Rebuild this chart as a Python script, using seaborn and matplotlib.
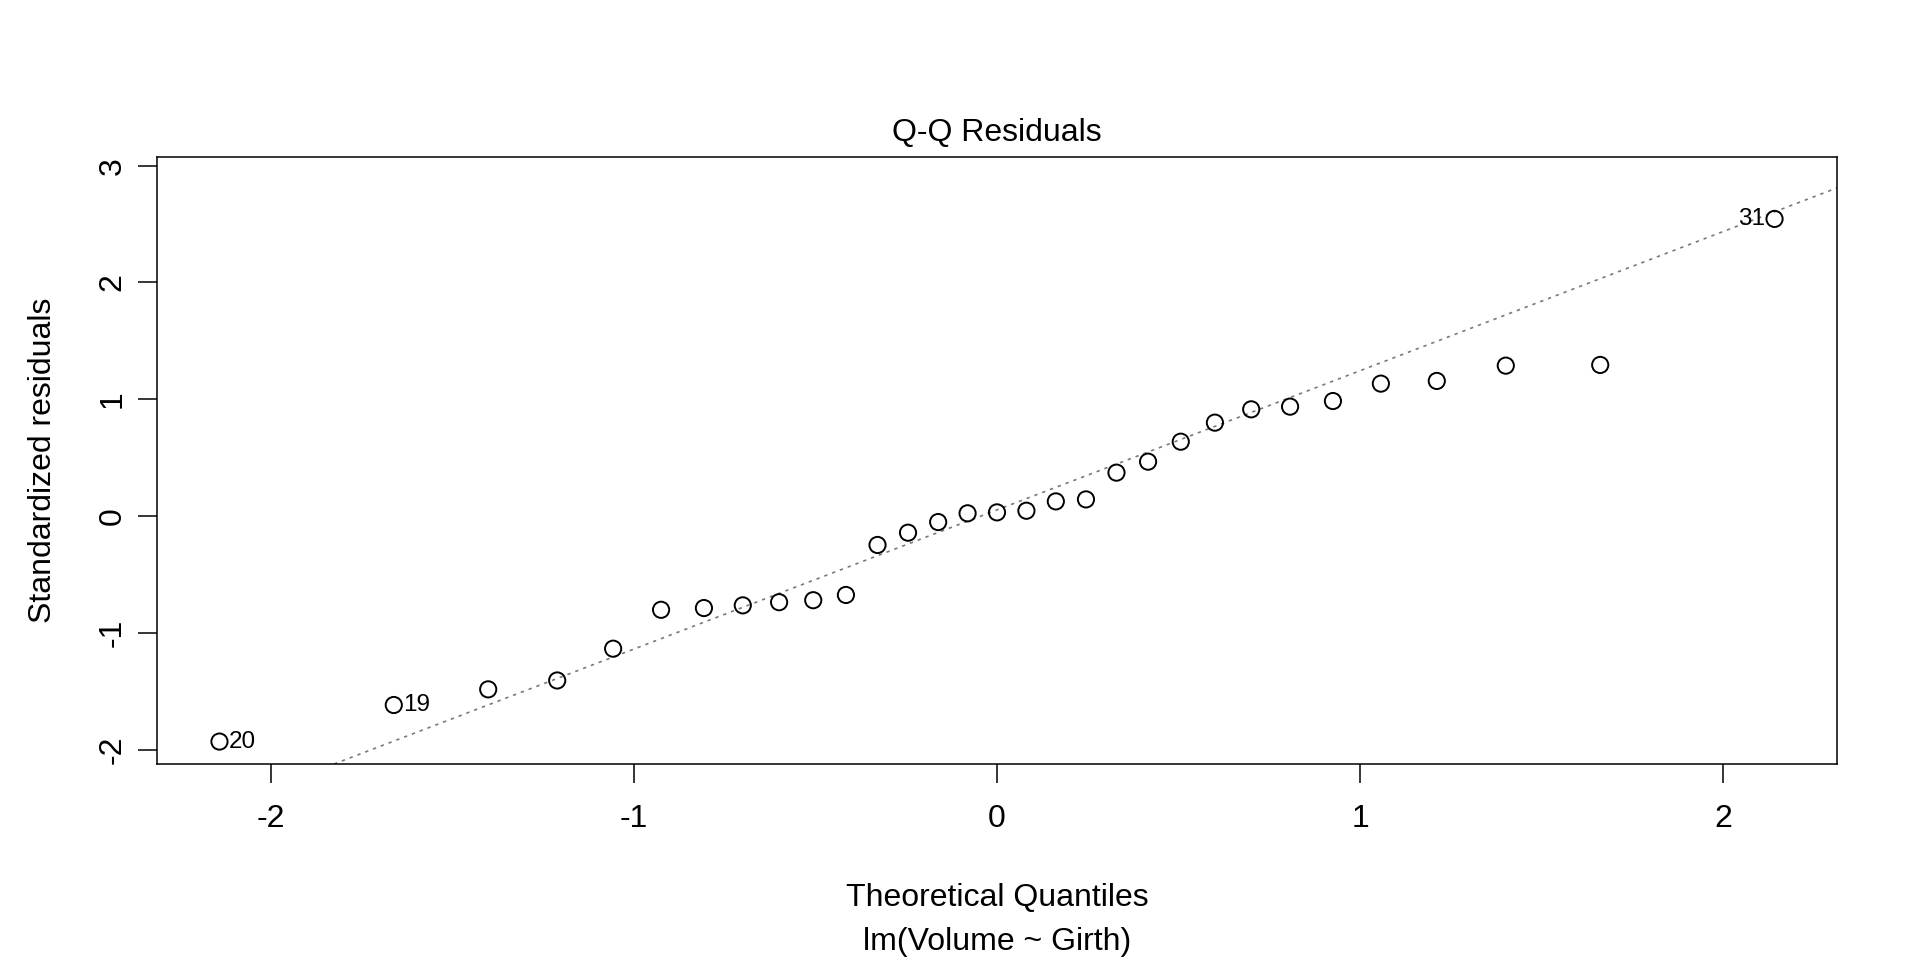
import numpy as np
import pandas as pd
import matplotlib
matplotlib.use("Agg")
import matplotlib.pyplot as plt
import seaborn as sns

# theoretical normal quantiles (x) and standardized residuals (y)
theoretical = [-2.141, -1.661, -1.401, -1.211, -1.057, -0.925, -0.807, -0.700,
               -0.600, -0.506, -0.416, -0.329, -0.245, -0.162, -0.081, 0.0,
               0.081, 0.162, 0.245, 0.329, 0.416, 0.506, 0.600, 0.700,
               0.807, 0.925, 1.057, 1.211, 1.401, 1.661, 2.141]
std_resid = [-1.930, -1.617, -1.483, -1.407, -1.135, -0.802, -0.787, -0.764,
             -0.737, -0.720, -0.675, -0.247, -0.142, -0.051, 0.024, 0.032,
             0.046, 0.126, 0.143, 0.372, 0.466, 0.637, 0.800, 0.914,
             0.937, 0.985, 1.134, 1.157, 1.288, 1.294, 2.544]
# labelled points: (observation id, index in sorted order)
label_ids = ["20", "19", "31"]
label_idx = [0, 1, 30]

x_ticks = [-2, -1, 0, 1, 2]
y_ticks = [-2, -1, 0, 1, 2, 3]

df = pd.DataFrame({"theoretical": theoretical, "std_resid": std_resid})

sns.set_theme(style="white")
plt.rcParams["font.family"] = ["Liberation Sans", "DejaVu Sans"]
plt.rcParams["text.color"] = "black"

W, H = 1920, 960
fig = plt.figure(figsize=(19.2, 9.6), dpi=100)
fig.patch.set_facecolor("white")
ax = fig.add_axes([157 / W, 1 - 764 / H, (1837 - 157) / W, (764 - 157) / H])
ax.set_facecolor("white")

sns.scatterplot(data=df, x="theoretical", y="std_resid", ax=ax,
                marker="o", s=136, facecolor="none", edgecolor="black",
                linewidth=1.4, zorder=3)

# reference line through the quartiles (like qqline)
q_y = np.quantile(df["std_resid"], [0.25, 0.75])
q_x = np.array([-0.6745, 0.6745])
slope = (q_y[1] - q_y[0]) / (q_x[1] - q_x[0])
intercept = q_y[0] - slope * q_x[0]
ax.axline((0, intercept), slope=slope, color="#7a7a7a", lw=1.2,
          linestyle=(0, (2, 3)), zorder=2)

for lab, i in zip(label_ids, label_idx):
    right = theoretical[i] < 0
    ax.annotate(lab, (theoretical[i], std_resid[i]),
                xytext=(7 if right else -7, 0), textcoords="offset points",
                ha="left" if right else "right", va="center", fontsize=17.5,
                color="black")

ax.set_xlim(-2.313, 2.313)
ax.set_ylim(-2.122, 3.074)
ax.set_xticks(x_ticks)
ax.set_yticks(y_ticks)
ax.set_xticklabels([str(t) for t in x_ticks], fontsize=23)
ax.set_yticklabels([str(t) for t in y_ticks], fontsize=23, rotation=90, va="center")
ax.tick_params(axis="both", direction="out", length=14, width=1.1, color="black",
               labelcolor="black", left=True, bottom=True)
ax.tick_params(axis="x", pad=15)
ax.tick_params(axis="y", pad=7)
for sp in ax.spines.values():
    sp.set_visible(True)
    sp.set_color("black")
    sp.set_linewidth(1.1)
ax.set_xlabel("")
ax.set_ylabel("")
ax.grid(False)

fig.text(997 / W, 1 - 133 / H, "Q-Q Residuals", ha="center", va="center",
         fontsize=23, color="black")
fig.text(997 / W, 1 - 898 / H, "Theoretical Quantiles", ha="center", va="center",
         fontsize=23, color="black")
fig.text(997 / W, 1 - 942 / H, "lm(Volume ~ Girth)", ha="center", va="center",
         fontsize=23, color="black")
fig.text(43 / W, 1 - 460 / H, "Standardized residuals", ha="center", va="center",
         rotation=90, fontsize=23, color="black")

fig.savefig("out.png", dpi=100, facecolor="white")
